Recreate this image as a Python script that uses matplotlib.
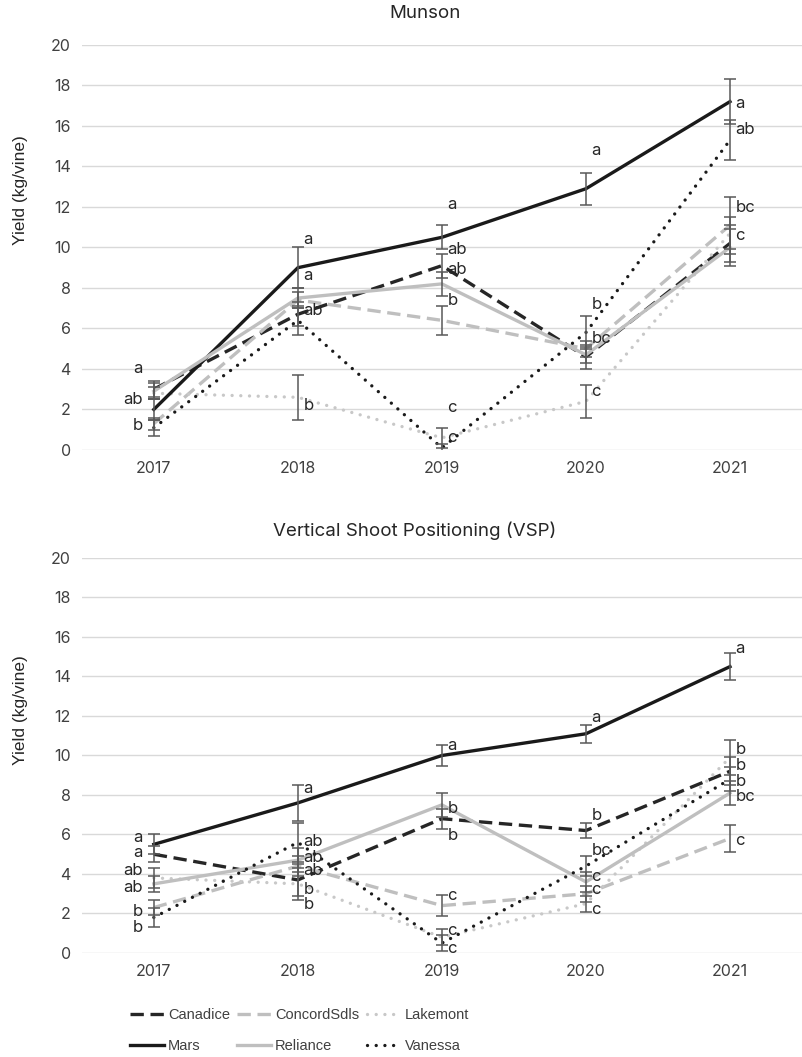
import matplotlib.pyplot as plt
import numpy as np

# Shared categories
YEARS = ["2017", "2018", "2019", "2020", "2021"]
CULTIVARS = ["Canadice", "ConcordSdls", "Lakemont", "Mars", "Reliance", "Vanessa"]

# Munson yields (kg/vine) and error
munson_canadice = [3.0, 6.7, 9.1, 4.6, 10.2]
munson_concord = [1.3, 7.4, 6.4, 5.0, 11.1]
munson_lakemont = [2.8, 2.6, 0.6, 2.4, 10.7]
munson_mars = [2.0, 9.0, 10.5, 12.9, 17.2]
munson_reliance = [2.9, 7.5, 8.2, 4.7, 10.0]
munson_vanessa = [1.1, 6.4, 0.1, 5.8, 15.3]

munson_canadice_err = [0.4, 0.6, 0.6, 0.6, 0.9]
munson_concord_err = [0.3, 0.4, 0.7, 0.4, 1.4]
munson_lakemont_err = [0.3, 1.1, 0.5, 0.8, 0.8]
munson_mars_err = [0.5, 1.0, 0.6, 0.8, 1.1]
munson_reliance_err = [0.4, 0.5, 0.6, 0.4, 0.9]
munson_vanessa_err = [0.4, 0.7, 0.2, 0.8, 1.0]

# VSP yields (kg/vine) and error
vsp_canadice = [5.0, 3.7, 6.8, 6.2, 9.2]
vsp_concord = [2.3, 4.4, 2.4, 3.0, 5.8]
vsp_lakemont = [3.8, 3.5, 0.8, 2.5, 9.9]
vsp_mars = [5.5, 7.6, 10.0, 11.1, 14.5]
vsp_reliance = [3.5, 4.7, 7.5, 3.6, 8.1]
vsp_vanessa = [1.8, 5.6, 0.5, 4.4, 8.8]

vsp_canadice_err = [0.4, 0.8, 0.5, 0.4, 0.7]
vsp_concord_err = [0.4, 0.5, 0.55, 0.4, 0.7]
vsp_lakemont_err = [0.5, 0.8, 0.4, 0.4, 0.9]
vsp_mars_err = [0.5, 0.9, 0.55, 0.45, 0.7]
vsp_reliance_err = [0.4, 0.6, 0.6, 0.5, 0.6]
vsp_vanessa_err = [0.5, 1.0, 0.4, 0.5, 0.6]

# Significance letters: (year index, text, y)
munson_letters = [
    (0, "a", 4.0), (0, "ab", 2.5), (0, "b", 1.2),
    (1, "a", 10.4), (1, "a", 8.6), (1, "ab", 6.9), (1, "b", 2.2),
    (2, "a", 12.1), (2, "ab", 9.9), (2, "ab", 8.9), (2, "b", 7.4),
    (2, "c", 2.1), (2, "c", 0.6),
    (3, "a", 14.8), (3, "b", 7.2), (3, "bc", 5.5), (3, "c", 2.9),
    (4, "a", 17.1), (4, "ab", 15.8), (4, "bc", 11.95), (4, "c", 10.6),
]
vsp_letters = [
    (0, "a", 5.87), (0, "a", 5.11), (0, "ab", 4.2), (0, "ab", 3.34),
    (0, "b", 2.08), (0, "b", 1.27),
    (1, "a", 8.35), (1, "ab", 5.62), (1, "ab", 4.86), (1, "ab", 4.2),
    (1, "b", 3.19), (1, "b", 2.43),
    (2, "a", 10.53), (2, "b", 7.34), (2, "b", 5.97), (2, "c", 2.89),
    (2, "c", 1.16), (2, "c", 0.25),
    (3, "a", 11.9), (3, "b", 6.94), (3, "bc", 5.2), (3, "c", 3.85),
    (3, "c", 3.19), (3, "c", 2.18),
    (4, "a", 15.44), (4, "b", 10.28), (4, "b", 9.47), (4, "b", 8.66),
    (4, "bc", 7.9), (4, "c", 5.72),
]

DOT = (0, (0.01, 2.6))
DASH = (0, (4, 2))
STYLES = {
    "Canadice": dict(color="#262626", linestyle=DASH),
    "ConcordSdls": dict(color="#bfbfbf", linestyle=DASH),
    "Lakemont": dict(color="#c8c8c8", linestyle=DOT, dash_capstyle="round"),
    "Mars": dict(color="#1a1a1a", linestyle="-"),
    "Reliance": dict(color="#bfbfbf", linestyle="-"),
    "Vanessa": dict(color="#1a1a1a", linestyle=DOT, dash_capstyle="round"),
}

plt.rcParams['font.family'] = ['Inter', 'DejaVu Sans']


def draw_panel(ax, title, series, errors, letters, title_pad, title_x, label_y):
    """Draw one panel of yield lines with error bars and letters"""
    x = np.arange(len(YEARS))

    for name in CULTIVARS:
        ax.plot(x, series[name], linewidth=2.4, label=name, zorder=3,
                **STYLES[name])

    # Error bars drawn over the lines
    for name in CULTIVARS:
        ax.errorbar(x, series[name], yerr=errors[name], fmt="none",
                    ecolor="#595959", elinewidth=1.1, capsize=4,
                    capthick=1.1, zorder=4)

    for idx, txt, yv in letters:
        if idx == 0:
            ax.annotate(txt, (idx, yv), xytext=(-8, 0),
                        textcoords="offset points", ha="right", va="center",
                        fontsize=12, color="#262626", zorder=5)
        else:
            ax.annotate(txt, (idx, yv), xytext=(4, 0),
                        textcoords="offset points", ha="left", va="center",
                        fontsize=12, color="#262626", zorder=5)

    ax.set_xlim(-0.5, len(YEARS) - 0.5)
    ax.set_ylim(0, 20)
    ax.set_yticks(range(0, 21, 2))
    ax.set_xticks(x)
    ax.set_xticklabels(YEARS)
    ax.tick_params(length=0, labelsize=11.5, colors="#404040", pad=8)
    ax.grid(axis="y", color="#d9d9d9", linewidth=1)
    ax.set_axisbelow(True)
    for spine in ax.spines.values():
        spine.set_visible(False)
    ax.set_ylabel("Yield (kg/vine)", fontsize=12.5, color="#262626",
                  family=["Liberation Sans", "DejaVu Sans"])
    ax.yaxis.set_label_coords(-0.075, label_y)
    ax.set_title(title, fontsize=13.5, color="#262626", pad=title_pad,
                 x=title_x)


def main():
    fig = plt.figure(figsize=(8.02, 10.57), dpi=100)

    ax_top = fig.add_axes([0.102, 0.5743, 0.898, 0.3832])
    ax_bot = fig.add_axes([0.102, 0.0984, 0.898, 0.3737])

    munson = dict(zip(CULTIVARS, [munson_canadice, munson_concord,
                                  munson_lakemont, munson_mars,
                                  munson_reliance, munson_vanessa]))
    munson_err = dict(zip(CULTIVARS, [munson_canadice_err, munson_concord_err,
                                      munson_lakemont_err, munson_mars_err,
                                      munson_reliance_err, munson_vanessa_err]))
    vsp = dict(zip(CULTIVARS, [vsp_canadice, vsp_concord, vsp_lakemont,
                               vsp_mars, vsp_reliance, vsp_vanessa]))
    vsp_err = dict(zip(CULTIVARS, [vsp_canadice_err, vsp_concord_err,
                                   vsp_lakemont_err, vsp_mars_err,
                                   vsp_reliance_err, vsp_vanessa_err]))

    draw_panel(ax_top, "Munson", munson, munson_err, munson_letters,
               19.5, 0.476, 0.642)
    draw_panel(ax_bot, "Vertical Shoot Positioning (VSP)", vsp, vsp_err,
               vsp_letters, 16, 0.462, 0.615)

    # Legend in two rows of three (matplotlib fills column by column)
    handles, labels = ax_bot.get_legend_handles_labels()
    order = [0, 3, 1, 4, 2, 5]
    fig.legend([handles[i] for i in order], [labels[i] for i in order],
               ncol=3, loc="upper left",
               bbox_to_anchor=(130 / 802, 1 - 1008 / 1057),
               borderpad=0, borderaxespad=0, frameon=False,
               prop={"family": ["Liberation Sans", "DejaVu Sans"],
                     "size": 10.5},
               handlelength=2.3, handletextpad=0.3, columnspacing=0.5,
               labelspacing=1.2, labelcolor="#404040")

    fig.savefig("out.png", dpi=100)
    plt.close(fig)


if __name__ == "__main__":
    main()
